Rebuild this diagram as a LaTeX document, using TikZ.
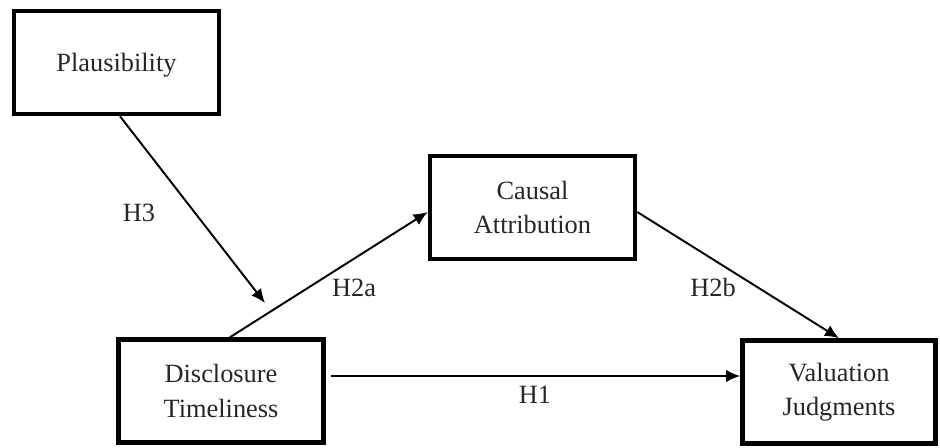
\documentclass[tikz,border=0pt]{standalone}
\usepackage{fontspec}
\setmainfont{Liberation Serif}
\usetikzlibrary{arrows.meta}

\begin{document}
\begin{tikzpicture}[x = 0.02cm, y = -0.02cm,
                    box/.style = {draw, line width=2.6pt, inner sep=0pt,
                                  minimum width=4.1cm, minimum height=2.06cm,
                                  align=center, text=black!85,
                                  font=\fontsize{15}{19.5}\selectfont},
                    hyp/.style = {text=black!85, font=\fontsize{15}{18}\selectfont},
                    arr/.style = {-{Latex[length=8pt,width=7pt]}, line width=1.1pt}]

    \useasboundingbox (0,0) rectangle (940,447);

    % constructs
    \node[box, text depth=0pt] (plaus) at (116.5,62.5) {Plausibility};
    \node[box] (causal) at (532.5,207.5) {Causal\\Attribution};
    \node[box] (discl)  at (221,391) {Disclosure\\Timeliness};
    \node[box, minimum width=3.86cm] (valu) at (839,392) {Valuation\\Judgments};

    % moderator points at the H2a path
    \coordinate (modtip) at (265,303);

    % paths
    \draw[arr] ([xshift=0.07cm]plaus.south) -- (modtip);
    \draw[arr] ([xshift=0.18cm]discl.north) -- ([yshift=-0.09cm]causal.west);
    \draw[arr] ([yshift=-0.09cm]causal.east) -- (valu.north);
    \draw[arr] ([shift={(0.1cm,0.3cm)}]discl.east) -- ([yshift=0.32cm]valu.west);

    % hypothesis labels
    \node[hyp] (h3)  at (139,213) {H3};
    \node[hyp] (h2a) at (354,288) {H2a};
    \node[hyp] (h2b) at (713,287) {H2b};
    \node[hyp] (h1)  at (535,395) {H1};
\end{tikzpicture}
\end{document}
